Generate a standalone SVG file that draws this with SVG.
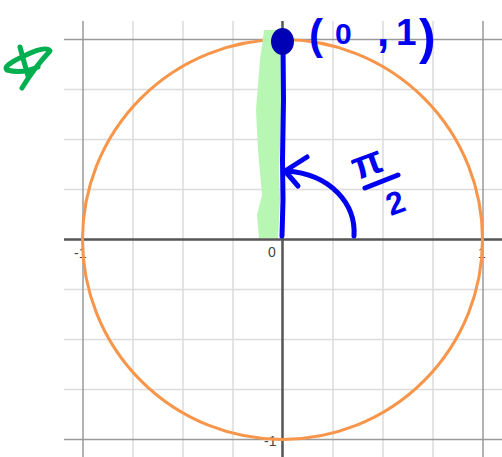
<svg xmlns="http://www.w3.org/2000/svg" width="502" height="457" viewBox="0 0 502 457">
<style>
.minor{stroke:#dcdcdc;stroke-width:1.5;fill:none}
.major{stroke:#9a9a9a;stroke-width:1.5;fill:none}
.axis{stroke:#555;stroke-width:2.5;fill:none}
.lbl{font-family:"Liberation Sans",Arial,sans-serif;font-size:14px;fill:#444}
.ink{stroke:#0000f0;stroke-width:5;fill:none;stroke-linecap:round;stroke-linejoin:round}
.hand{font-family:"Liberation Sans",Arial,sans-serif;font-weight:bold;fill:#0000f0}
</style>
<rect width="502" height="457" fill="#fff"/>
<g id="labels">
<text class="lbl" x="74" y="258">-1</text>
<text class="lbl" x="268" y="257">0</text>
<text class="lbl" x="478" y="258">1</text>
<text class="lbl" x="264" y="446">-1</text>
</g>
<g id="grid">
<path class="minor" d="M133,21V457M183,21V457M233,21V457M333,21V457M383,21V457M433,21V457M64,89.5H502M64,139.5H502M64,189.5H502M64,289.5H502M64,339.5H502M64,389.5H502"/>
<path class="major" d="M83,21V457M483,21V457M64,39.5H502M64,439.5H502"/>
<path class="axis" d="M64,239.5H502M282.5,21V457"/>
</g>
<g id="circle">
<circle cx="282.5" cy="239.5" r="200" fill="none" stroke="#f7964b" stroke-width="3"/>
</g>
<g id="highlight">
<path d="M264,30 L281,30 L281,120 L279,170 L280,200 L278,238 L259,238 L257,215 L262,195 L258,150 L256,110 L260,60 Z" fill="#b4f5b0" fill-opacity="0.95"/>
</g>
<g id="connectors">
<path class="ink" d="M283,42 L283.5,100 L282.5,160 L283,200 L282,236" stroke="#0000d8"/>
<path class="ink" d="M354,236 C356,205 332,174 286,171"/>
<path class="ink" d="M307,157 L285,171 L298,186"/>
</g>
<g id="point">
<ellipse cx="282.5" cy="41.5" rx="11.5" ry="13.5" fill="#0000b4"/>
<text class="hand" x="309" y="49" font-size="42">(</text>
<text class="hand" x="335" y="44" font-size="30">0</text>
<text class="hand" x="377" y="46" font-size="44">,</text>
<text class="hand" x="396" y="45" font-size="37">1</text>
<text class="hand" x="419" y="54" font-size="50">)</text>
</g>
<g id="angle">
<text class="hand" x="367" y="176" font-size="40" text-anchor="middle" transform="rotate(-20 367 163)">π</text>
<path class="ink" d="M365,188 L398,175"/>
<text class="hand" x="395" y="214" font-size="32" text-anchor="middle" transform="rotate(-20 395 202)">2</text>
</g>
<g id="star">
<path d="M20,47 Q24,62 28,76 M22,88 Q34,68 50,51 Q46,45 24,56 Q2,66 7,70 Q22,74 38,67" fill="none" stroke="#00b050" stroke-width="5" stroke-linecap="round" stroke-linejoin="round"/>
</g>
</svg>
